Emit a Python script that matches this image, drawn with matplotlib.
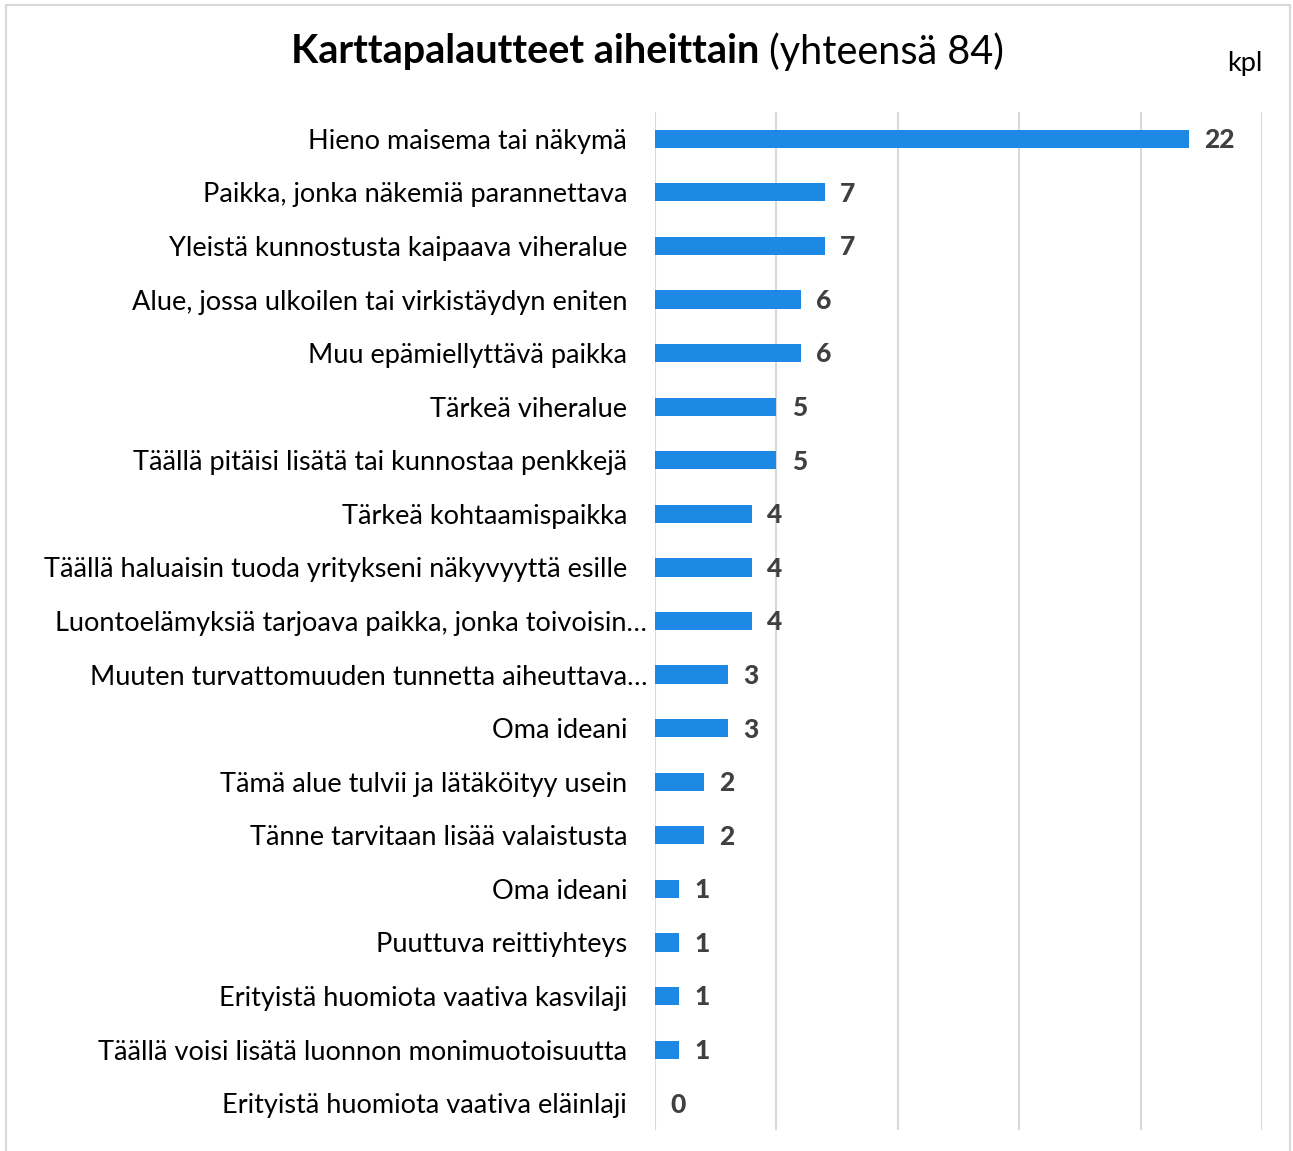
import matplotlib
matplotlib.use('Agg')
import matplotlib.pyplot as plt
import matplotlib.transforms as mtransforms
from matplotlib.patches import Rectangle

plt.rcParams['font.family'] = ['Lato', 'DejaVu Sans']

categories = [
    'Hieno maisema tai näkymä',
    'Paikka, jonka näkemiä parannettava',
    'Yleistä kunnostusta kaipaava viheralue',
    'Alue, jossa ulkoilen tai virkistäydyn eniten',
    'Muu epämiellyttävä paikka',
    'Tärkeä viheralue',
    'Täällä pitäisi lisätä tai kunnostaa penkkejä',
    'Tärkeä kohtaamispaikka',
    'Täällä haluaisin tuoda yritykseni näkyvyyttä esille',
    'Luontoelämyksiä tarjoava paikka, jonka toivoisin…',
    'Muuten turvattomuuden tunnetta aiheuttava…',
    'Oma ideani',
    'Tämä alue tulvii ja lätäköityy usein',
    'Tänne tarvitaan lisää valaistusta',
    'Oma ideani',
    'Puuttuva reittiyhteys',
    'Erityistä huomiota vaativa kasvilaji',
    'Täällä voisi lisätä luonnon monimuotoisuutta',
    'Erityistä huomiota vaativa eläinlaji',
]
counts = [22, 7, 7, 6, 6, 5, 5, 4, 4, 4, 3, 3, 2, 2, 1, 1, 1, 1, 0]
x_ticks = [0, 5, 10, 15, 20, 25]

BAR = '#1e88e5'
GRID = '#d9d9d9'
TEXT = '#000000'
VAL = '#404040'

W, H = 1293, 1151
fig = plt.figure(figsize=(W / 100, H / 100), dpi=100, facecolor='white')
ax = fig.add_axes([655 / W, 1 - 1130 / H, (1262 - 655) / W, (1130 - 112) / H])

y = list(range(len(categories)))
ax.barh(y, counts, height=0.34, color=BAR, zorder=3)
ax.set_ylim(len(categories) - 0.5, -0.5)
ax.set_xlim(0, 25)
ax.set_xticks(x_ticks)
ax.xaxis.grid(True, color=GRID, linewidth=1.5, zorder=0)
ax.tick_params(axis='x', length=0, labelbottom=False)
ax.tick_params(axis='y', length=0, pad=20, labelsize=19.5, labelcolor=TEXT)
ax.set_yticks(y)
ax.set_yticklabels(categories)
for s in ax.spines.values():
    s.set_visible(False)

# the truncated labels sit closer to the axis
for lbl in ax.get_yticklabels():
    if lbl.get_text().endswith('…'):
        lbl.set_transform(lbl.get_transform() + mtransforms.ScaledTranslation(20 / 100, 0, fig.dpi_scale_trans))

for yi, v in zip(y, counts):
    ax.annotate(str(v), xy=(v, yi), xytext=(11, -1), textcoords='offset points',
                ha='left', va='center', fontsize=19, fontweight='black', color=VAL)

# title: bold part + regular part
t1 = fig.text(291 / W, 1 - 52 / H, 'Karttapalautteet aiheittain', ha='left', va='center',
              fontsize=28.5, fontweight='bold', color=TEXT)
fig.canvas.draw()
bb = t1.get_window_extent()
fig.text(bb.x1 / W, 1 - 52 / H, ' (yhteensä 84)', ha='left', va='center', fontsize=28.5, color=TEXT)

fig.text(1245 / W, 1 - 63 / H, 'kpl', ha='center', va='center', fontsize=19.5, color=TEXT)

fig.patches.append(Rectangle((6 / W, -0.02), (1290 - 6) / W, 1.02 - 5 / H, transform=fig.transFigure,
                             fill=False, edgecolor=GRID, linewidth=1.5))

fig.savefig('out.png', dpi=100, facecolor='white')
